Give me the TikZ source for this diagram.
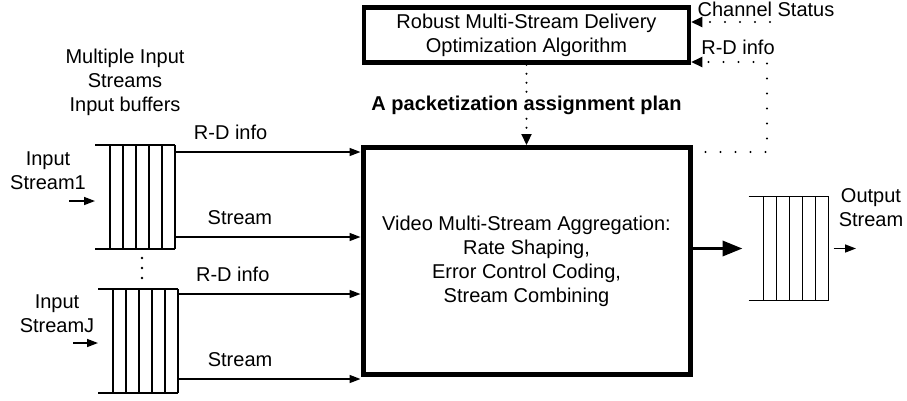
\documentclass[tikz,border=0pt]{standalone}
\usepackage{fontspec}
\setmainfont{Liberation Sans}
\usetikzlibrary{arrows.meta,calc}

\tikzset{
  lbl/.style={font=\fontsize{20}{24}\selectfont, align=center, inner sep=0pt},
  blockbox/.style={draw, align=center, inner sep=0pt, font=\fontsize{20}{24}\selectfont},
  bufframe/.style={minimum width=80pt, minimum height=104pt, inner sep=0pt, outer sep=0pt},
  bufline/.style={line width=1.4pt},
  arr/.style={line width=1.5pt, -{Triangle[length=11pt,width=8pt]}},
  bigarr/.style={line width=3.5pt, -{Triangle[length=20pt,width=15pt]}},
  dotline/.style={line width=2.2pt, line cap=round, dash pattern=on 0pt off 15pt},
  dotarr/.style={dotline, -{Triangle[length=11pt,width=10pt]}},
  vdotarr/.style={line width=2.2pt, line cap=round, dash pattern=on 0pt off 9pt, -{Triangle[length=11pt,width=10pt]}},
}

% buffer: two long rails and six cell walls
\newcommand\bufferlines[1]{%
  \draw[bufline] (#1.north west) -- (#1.north east) (#1.south west) -- (#1.south east);
  \foreach \dx in {15,28,41,54,67,80}
    \draw[bufline] ([xshift=\dx pt]#1.north west) -- ([xshift=\dx pt]#1.south west);
}

\begin{document}
\begin{tikzpicture}[x=1pt,y=-1pt]
\useasboundingbox (0,0) rectangle (907,400);

% main blocks
\node[blockbox, line width=4.5pt, minimum width=325pt, minimum height=55pt] (opt) at (526.5,35)
  {Robust Multi-Stream Delivery\\Optimization Algorithm};
\node[blockbox, line width=5pt, minimum width=327pt, minimum height=227pt] (agg) at (526.5,261)
  {Video Multi-Stream Aggregation:\\Rate Shaping,\\Error Control Coding,\\Stream Combining};

% buffers
\node[bufframe] (buf1) at (135,197) {};
\node[bufframe] (bufJ) at (138,341) {};
\node[bufframe] (bufOut) at (788.5,248.5) {};
\bufferlines{buf1}
\bufferlines{bufJ}
\bufferlines{bufOut}

% vertical ellipsis between the input buffers
\foreach \yy in {258,268,278} \fill (142,\yy) circle (1.3);

% labels
\node[lbl] (mult) at (125,82) {Multiple Input\\Streams\\Input buffers};
\node[lbl] (in1lbl) at (48,171) {Input\\Stream1};
\node[lbl] (inJlbl) at (57,313.5) {Input\\StreamJ};
\node[lbl] (outlbl) at (871,207.5) {Output\\Stream};
\node[lbl] (rdtop) at (738,47) {R-D info};
\node[lbl] (cslbl) at (766,9) {Channel Status};

% input arrows
\coordinate (in1) at (69,201);
\coordinate (inJ) at (73,343);
\draw[arr] (in1) -- (in1 -| buf1.west);
\draw[arr] (inJ) -- (inJ -| bufJ.west);

% buffer outputs into the aggregation block
\draw[arr] ([yshift=-7pt]buf1.north east) -- ([yshift=-7pt]buf1.north east -| agg.west)
  node[lbl, pos=0.30, above=12pt] {R-D info};
\draw[arr] ([yshift=12pt]buf1.south east) -- ([yshift=12pt]buf1.south east -| agg.west)
  node[lbl, pos=0.35, above=12pt] {Stream};
\draw[arr] ([yshift=-5pt]bufJ.north east) -- ([yshift=-5pt]bufJ.north east -| agg.west)
  node[lbl, pos=0.30, above=12pt] {R-D info};
\draw[arr] ([yshift=14pt]bufJ.south east) -- ([yshift=14pt]bufJ.south east -| agg.west)
  node[lbl, pos=0.34, above=12pt] {Stream};

% aggregated output
\draw[bigarr, shorten >=6pt] (agg.east |- bufOut.west) -- (bufOut.west);
\coordinate (outEnd) at (856,248.5);
\draw[arr] ([xshift=5pt]bufOut.east) -- (outEnd);

% control plan from the optimizer
\draw[vdotarr] (opt.south) -- (agg.north)
  node[midway, lbl, font=\fontsize{20}{24}\selectfont\bfseries, fill=white, inner sep=1pt]
  {A packetization assignment plan};

% feedback paths into the optimizer
\coordinate (fbturn) at (767,62);
\draw[dotarr] ([xshift=13pt,yshift=-7pt]agg.north east) -| (fbturn) -- (fbturn -| opt.east);
\coordinate (cs) at (770,22);
\draw[dotarr] (cs) -- (cs -| opt.east);
\end{tikzpicture}
\end{document}
